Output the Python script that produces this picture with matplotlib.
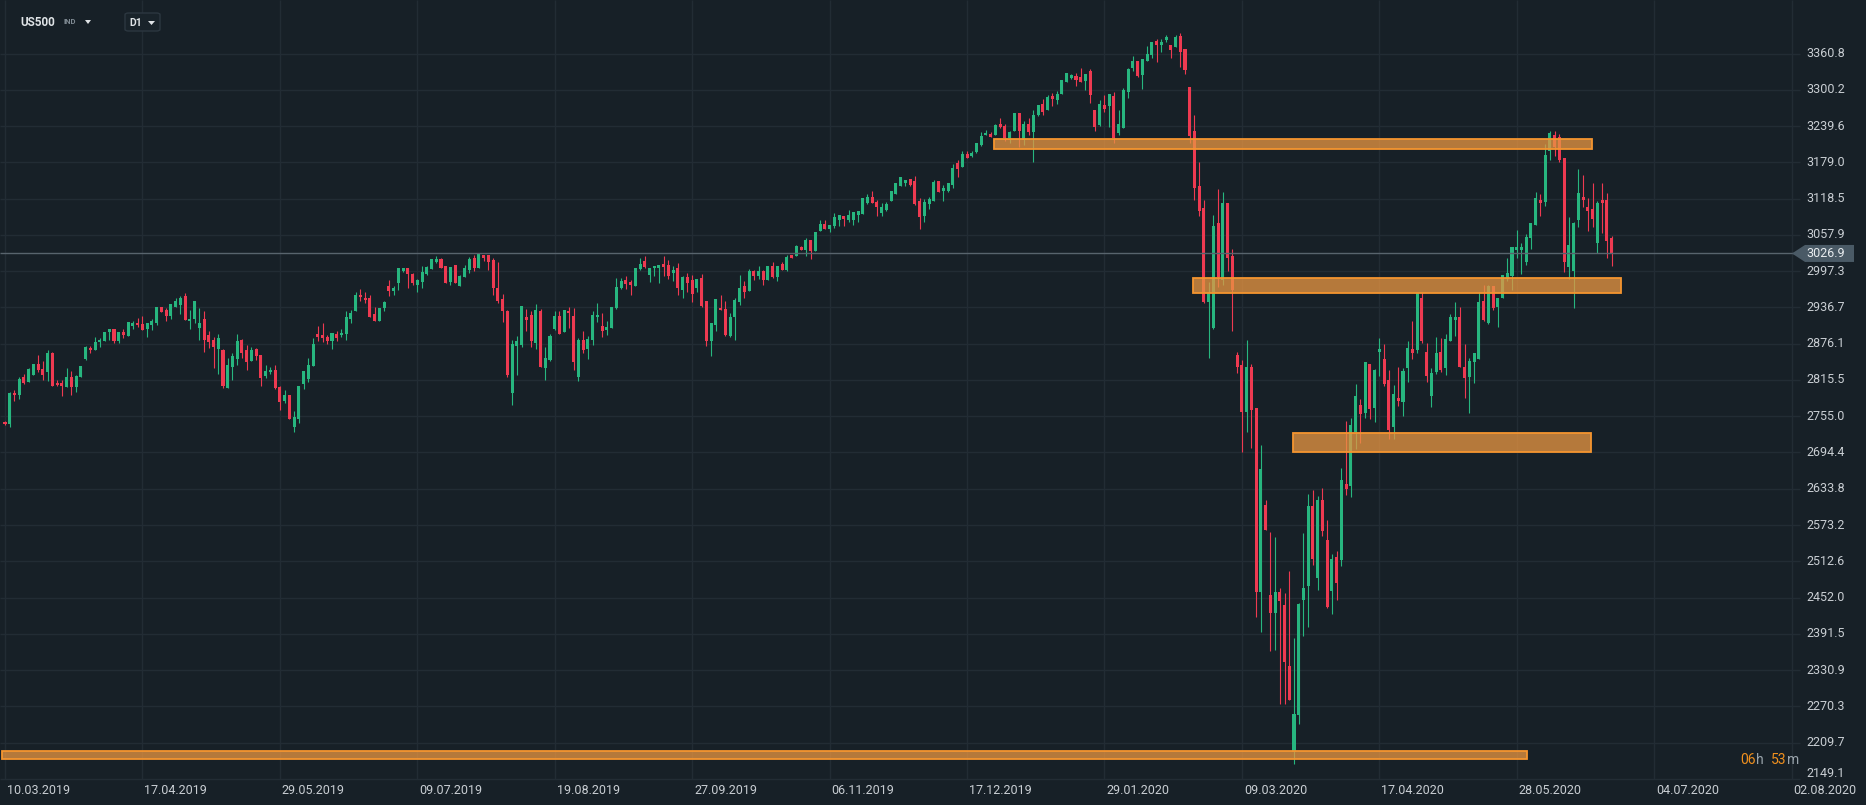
import matplotlib
matplotlib.use("Agg")
import matplotlib.pyplot as plt
from matplotlib.patches import Rectangle, Polygon, FancyBboxPatch
import numpy as np

# ---------------- DATA (US500, D1) ----------------
opens = [
 2746,2742,2794,2790,2820,2812,2823,2842,2834,2829,
 2861,2811,2811,2804,2821,2804,2820,2850,2869,2865,
 2879,2880,2895,2900,2880,2896,2889,2906,2911,2909,
 2900,2908,2910,2938,2933,2922,2938,2940,2955,2914,
 2917,2902,2918,2890,2883,2867,2865,2802,2837,2851,
 2882,2866,2847,2867,2858,2822,2829,2833,2803,2780,
 2791,2737,2751,2809,2817,2839,2893,2890,2887,2880,
 2893,2890,2892,2918,2931,2958,2953,2953,2925,2914,
 2936,2973,2965,2977,2998,3002,2992,2975,2980,2993,
 3001,3013,3017,3006,2980,3008,2972,2987,3000,3020,
 3003,3025,3025,3016,2970,2951,2930,2793,2873,2874,
 2920,2924,2878,2931,2835,2849,2901,2923,2895,2931,
 2923,2820,2883,2867,2883,2920,2906,2899,2902,2936,
 2970,2983,2980,2973,3001,3015,2991,3002,3002,3010,
 3008,2995,3003,2966,2988,2983,2970,2986,2948,2881,
 2907,2936,2934,2889,2920,2945,2973,2964,2997,2990,
 2997,2983,3006,2988,3010,3000,3025,3022,3038,3033,
 3049,3031,3065,3076,3068,3073,3083,3090,3083,3083,
 3091,3093,3112,3121,3113,3095,3100,3115,3127,3140,
 3144,3151,3148,3115,3089,3110,3115,3148,3132,3132,
 3141,3178,3172,3193,3189,3197,3208,3224,3227,3225,
 3243,3240,3219,3232,3261,3217,3243,3229,3258,3277,
 3267,3290,3283,3293,3314,3320,3323,3322,3315,3331,
 3267,3242,3275,3273,3290,3228,3237,3296,3336,3349,
 3325,3349,3359,3382,3375,3384,3375,3371,3390,3369,
 3305,3232,3140,3103,2946,2903,3077,2983,3111,3023,
 2857,2841,2762,2837,2768,2461,2607,2456,2426,2462,
 2439,2337,2194,2255,2448,2472,2605,2485,2615,2548,
 2463,2520,2514,2642,2639,2728,2774,2760,2842,2769,
 2862,2851,2815,2737,2785,2779,2835,2867,2866,2952,
 2863,2789,2829,2863,2835,2881,2916,2921,2838,2821,
 2845,2851,2948,2910,2972,2938,2952,2984,2989,3033,
 3033,3013,3052,3075,3116,3113,3198,3224,3221,3187,
 3004,2998,3083,3122,3104,3102,3044,3116,3117,3052]
highs = [
 2747,2795,2798,2820,2825,2835,2843,2858,2848,2865,
 2863,2815,2815,2835,2831,2823,2839,2873,2873,2888,
 2885,2896,2901,2900,2896,2900,2913,2914,2919,2923,
 2911,2917,2938,2938,2936,2943,2952,2955,2960,2932,
 2948,2936,2930,2898,2888,2892,2868,2853,2860,2893,
 2884,2874,2870,2869,2858,2841,2838,2840,2805,2798,
 2791,2763,2806,2830,2853,2885,2905,2910,2890,2894,
 2898,2900,2930,2932,2963,2968,2962,2957,2938,2935,
 2948,2982,2972,3002,3002,3002,2994,2984,3006,3006,
 3017,3023,3019,3006,3005,3008,2991,3008,3021,3025,
 3028,3025,3025,3019,3013,2959,2933,2883,2889,2939,
 2934,2930,2943,2934,2870,2893,2931,2931,2933,2937,
 2936,2885,2898,2889,2930,2944,2927,2914,2937,2986,
 2986,2990,2983,3002,3019,3023,3002,3006,3008,3023,
 3016,3006,3011,2990,2995,2991,2984,2992,2948,2910,
 2951,2958,2948,2927,2952,2991,2981,3001,3000,3006,
 3000,3006,3013,3006,3013,3025,3025,3041,3039,3053,
 3049,3063,3083,3083,3075,3095,3091,3090,3100,3096,
 3098,3120,3126,3131,3116,3112,3113,3131,3144,3154,
 3150,3151,3156,3120,3118,3122,3150,3148,3141,3144,
 3176,3183,3198,3198,3198,3212,3229,3233,3230,3243,
 3253,3243,3232,3261,3261,3248,3254,3267,3275,3285,
 3291,3295,3298,3317,3328,3326,3328,3337,3326,3335,
 3267,3283,3292,3294,3297,3267,3304,3337,3357,3349,
 3352,3374,3380,3385,3386,3392,3375,3392,3395,3369,
 3305,3258,3180,3116,2980,3091,3135,3129,3111,3034,
 2863,2849,2882,2843,2768,2707,2615,2561,2553,2468,
 2460,2496,2384,2443,2560,2625,2632,2622,2635,2581,
 2525,2530,2668,2747,2752,2809,2783,2846,2843,2834,
 2885,2875,2832,2807,2837,2835,2880,2914,2960,2963,
 2878,2835,2888,2885,2893,2925,2945,2938,2875,2853,
 2861,2963,2974,2974,2972,2952,2991,3019,3038,3066,
 3045,3059,3078,3129,3126,3209,3232,3232,3226,3187,
 3088,3080,3168,3158,3119,3144,3115,3145,3128,3056]
lows = [
 2741,2737,2780,2783,2808,2812,2823,2829,2816,2814,
 2805,2805,2788,2803,2791,2795,2820,2849,2861,2865,
 2870,2880,2883,2877,2877,2885,2889,2901,2904,2899,
 2888,2899,2907,2929,2914,2917,2937,2925,2915,2900,
 2911,2883,2862,2869,2835,2825,2802,2802,2815,2840,
 2852,2832,2847,2849,2805,2819,2825,2800,2765,2777,
 2751,2728,2744,2800,2812,2839,2880,2879,2875,2867,
 2880,2888,2883,2910,2931,2947,2944,2920,2914,2914,
 2931,2956,2958,2966,2996,2970,2975,2963,2970,2991,
 3001,3011,3003,2978,2974,2977,2972,2987,2995,2997,
 3003,3015,3000,2957,2944,2913,2820,2774,2823,2870,
 2898,2871,2867,2838,2816,2848,2899,2893,2895,2903,
 2833,2813,2860,2851,2874,2912,2888,2890,2902,2934,
 2968,2968,2957,2973,3000,3003,2980,2990,2978,2990,
 2985,2981,2958,2953,2963,2945,2963,2937,2873,2855,
 2897,2932,2889,2887,2882,2941,2953,2964,2983,2985,
 2975,2983,2986,2981,3000,2998,3020,3022,3033,3023,
 3018,3031,3065,3068,3062,3069,3072,3073,3080,3075,
 3080,3093,3110,3111,3090,3090,3097,3115,3126,3140,
 3140,3139,3108,3068,3080,3102,3115,3130,3115,3129,
 3137,3155,3172,3187,3188,3194,3206,3224,3222,3225,
 3236,3215,3212,3232,3205,3208,3225,3180,3257,3259,
 3266,3274,3277,3293,3314,3318,3307,3314,3300,3279,
 3232,3240,3263,3239,3212,3225,3237,3287,3331,3321,
 3302,3349,3354,3347,3364,3381,3354,3371,3339,3327,
 3212,3116,3090,2944,2853,2900,2971,2974,2997,2898,
 2828,2696,2729,2702,2420,2395,2565,2362,2365,2274,
 2274,2281,2174,2241,2387,2403,2507,2465,2555,2434,
 2424,2448,2505,2623,2620,2700,2710,2752,2750,2746,
 2822,2805,2717,2717,2772,2756,2812,2851,2861,2877,
 2812,2771,2825,2829,2824,2881,2889,2837,2786,2761,
 2810,2851,2914,2909,2933,2904,2952,2981,2966,3019,
 2992,3008,3035,3075,3089,3106,3183,3190,3180,2996,
 2984,2935,3071,3105,3065,3071,3027,3061,3019,3006]
closes = [
 2742,2794,2790,2817,2810,2834,2842,2832,2824,2861,
 2805,2807,2805,2821,2804,2822,2839,2871,2865,2879,
 2883,2896,2900,2880,2896,2890,2913,2911,2907,2899,
 2911,2914,2938,2929,2922,2943,2947,2952,2915,2918,
 2947,2910,2882,2879,2870,2885,2806,2841,2855,2880,
 2860,2845,2865,2855,2819,2830,2833,2802,2778,2791,
 2751,2753,2806,2830,2841,2875,2888,2885,2880,2894,
 2885,2894,2921,2928,2958,2954,2949,2920,2914,2935,
 2946,2965,2970,3002,3002,2992,2977,2983,2996,3004,
 3017,3018,3003,2978,3004,2977,2990,3002,3018,3003,
 3028,3020,3013,2970,2947,2930,2823,2876,2881,2939,
 2916,2880,2933,2838,2852,2889,2923,2893,2933,2927,
 2845,2883,2865,2884,2924,2924,2897,2904,2937,2971,
 2981,2976,2975,3002,3010,3005,3002,3006,3008,3005,
 2990,3000,2970,2987,2977,2959,2984,2939,2881,2910,
 2951,2932,2891,2920,2949,2969,2963,2997,2990,2998,
 2983,3006,2987,3006,3000,3021,3020,3039,3033,3049,
 3031,3063,3076,3068,3075,3087,3091,3085,3091,3096,
 3098,3120,3121,3112,3105,3105,3110,3131,3144,3154,
 3150,3141,3110,3088,3113,3118,3146,3130,3137,3144,
 3169,3168,3193,3187,3194,3212,3223,3228,3222,3242,
 3239,3219,3230,3261,3232,3243,3230,3259,3275,3263,
 3289,3285,3294,3317,3328,3325,3317,3314,3326,3292,
 3239,3277,3268,3294,3219,3244,3300,3335,3349,3323,
 3352,3360,3380,3375,3380,3388,3367,3388,3364,3333,
 3223,3137,3097,2946,2961,3072,2987,3111,3020,2966,
 2838,2762,2837,2766,2461,2667,2565,2426,2462,2447,
 2344,2281,2257,2441,2468,2605,2516,2615,2564,2436,
 2516,2476,2648,2633,2740,2789,2759,2845,2767,2832,
 2867,2808,2732,2792,2781,2831,2869,2860,2960,2880,
 2822,2828,2860,2832,2884,2921,2920,2837,2818,2847,
 2860,2945,2916,2972,2935,2952,2991,2995,3038,3038,
 3037,3055,3078,3119,3111,3191,3228,3204,3183,3013,
 3041,3077,3128,3116,3098,3084,3112,3111,3048,3027]

current_price = 3026.9
price_ticks = [3360.8, 3300.2, 3239.6, 3179.0, 3118.5, 3057.9, 2997.3, 2936.7,
               2876.1, 2815.5, 2755.0, 2694.4, 2633.8, 2573.2, 2512.6, 2452.0,
               2391.5, 2330.9, 2270.3, 2209.7, 2149.1]
date_labels = ["10.03.2019", "17.04.2019", "29.05.2019", "09.07.2019", "19.08.2019",
               "27.09.2019", "06.11.2019", "17.12.2019", "29.01.2020", "09.03.2020",
               "17.04.2020", "28.05.2020", "04.07.2020", "02.08.2020"]
date_tick_bars = [0, 29, 58, 87, 116, 145, 174, 203, 232, 261, 290, 319, 348, 377]

# support / resistance zones (bar start, bar end, price low, price high)
zone_start = [208.7, 250.7, 271.7, -0.7]
zone_end = [334.9, 341.0, 334.7, 321.1]
zone_low = [3202.2, 2960.3, 2694.7, 2181.8]
zone_high = [3217.6, 2985.4, 2726.4, 2195.6]

# ---------------- STYLE / LAYOUT ----------------
W, H = 1866, 805
BG = "#172027"
GRID = "#222c34"
GREEN = "#27b67f"
RED = "#ee3a51"
TXT = "#c9ced3"
ORANGE = "#f0901e"
plt.rcParams["font.family"] = ["Roboto", "DejaVu Sans"]

X0, DX = 5.0, 4.739                # pixel of bar 0, pixels per bar
Y_REF, P_REF = 53.6, 3360.8         # pixel row of a reference price
PPP = 36.26 / 60.58                 # pixels per price unit
AXIS_Y = 779                        # pixel row of the time-axis border


def bx(px):  # pixel x -> bar coordinate
    return (px - X0) / DX


def py(pix):  # pixel y -> price coordinate
    return P_REF - (pix - Y_REF) / PPP


fig = plt.figure(figsize=(W / 100, H / 100), dpi=100, facecolor=BG)
ax = fig.add_axes([0, 0, 1, 1])
ax.set_xlim(bx(0), bx(W))
ax.set_ylim(py(H), py(0))
ax.axis("off")

# grid
ax.hlines(price_ticks, bx(0), bx(1800), colors=GRID, linewidth=1.0, zorder=0)
ax.vlines(date_tick_bars, py(AXIS_Y), py(0), colors=GRID, linewidth=1.0, zorder=0)

# candles
o = np.array(opens, float)
h = np.array(highs, float)
l = np.array(lows, float)
c = np.array(closes, float)
idx = np.arange(len(c))
cols = np.where(c >= o, GREEN, RED)
ax.vlines(idx, l, h, colors=cols, linewidth=0.8, zorder=2)
ax.bar(idx, np.maximum(np.abs(c - o), 1.8), bottom=np.minimum(o, c), width=0.64,
       color=cols, linewidth=0, zorder=3)

# zones
for s, e, lo, hi in zip(zone_start, zone_end, zone_low, zone_high):
    ax.add_patch(Rectangle((s, lo), e - s, hi - lo, facecolor=(0.91, 0.59, 0.26, 0.76),
                           edgecolor="#f5952f", linewidth=1.3, zorder=4))

# current price line & tag
ax.hlines(current_price, bx(0), bx(1795), colors="#58646d", linewidth=1.0, zorder=5)
hh = 8.5 / PPP
ax.add_patch(Polygon([(bx(1792), current_price), (bx(1805), current_price + hh),
                      (bx(1854), current_price + hh), (bx(1854), current_price - hh),
                      (bx(1805), current_price - hh)], closed=True,
                     facecolor="#4a5a66", edgecolor="none", zorder=6))
ax.text(bx(1806), current_price, f"{current_price:.1f}", color="#e8ecef", fontsize=9,
        ha="left", va="center", zorder=7)

# price labels (the lowest one is kept just above the time axis)
for p in price_ticks:
    if abs(p - current_price) < 20:
        continue
    yl = max(p, py(AXIS_Y - 6))
    ax.text(bx(1806), yl, f"{p:.1f}", color=TXT, fontsize=9, ha="left", va="center", zorder=7)

# date labels
for b, lab in zip(date_tick_bars, date_labels):
    ax.text(b + 2 / DX, py(790), lab, color=TXT, fontsize=9, ha="left", va="center")

# header
fig.text(20 / W, 1 - 22 / H, "US500", color="#dfe3e6", fontsize=8.5, fontweight="bold",
         ha="left", va="center")
fig.text(64 / W, 1 - 22 / H, "IND", color="#7f8a93", fontsize=5.5, fontweight="bold",
         ha="left", va="center")
fig.patches.append(Polygon([(85 / W, 1 - 20 / H), (91 / W, 1 - 20 / H), (88 / W, 1 - 24 / H)],
                           closed=True, transform=fig.transFigure, facecolor="#dfe3e6",
                           edgecolor="none"))
fig.patches.append(FancyBboxPatch((125 / W, 1 - 31 / H), 35 / W, 18 / H,
                                  boxstyle="round,pad=0,rounding_size=0.002",
                                  transform=fig.transFigure, facecolor="#19232a",
                                  edgecolor="#2c3740", linewidth=1.0))
fig.text(129 / W, 1 - 22.5 / H, "D1", color="#dfe3e6", fontsize=7.5, fontweight="bold",
         ha="left", va="center")
fig.patches.append(Polygon([(148 / W, 1 - 21 / H), (155 / W, 1 - 21 / H), (151.5 / W, 1 - 25 / H)],
                           closed=True, transform=fig.transFigure, facecolor="#dfe3e6",
                           edgecolor="none"))

# countdown
for xp, s, col in [(1740, "06", ORANGE), (1756, "h", "#9aa4ac"),
                   (1771, "53", ORANGE), (1787, "m", "#9aa4ac")]:
    fig.text(xp / W, 1 - 760 / H, s, color=col, fontsize=10, ha="left", va="center")

fig.savefig("out.png", dpi=100, facecolor=BG)
